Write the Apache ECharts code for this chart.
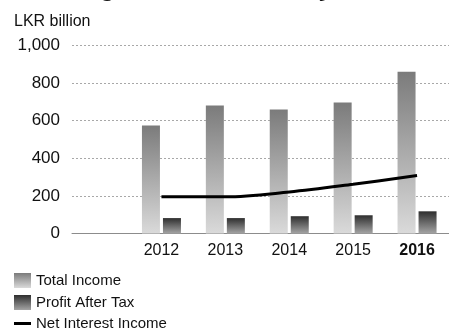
<!DOCTYPE html>
<html>
<head>
<meta charset="utf-8">
<script src="https://cdn.jsdelivr.net/npm/echarts@6/dist/echarts.min.js"></script>
<style>
  html, body { margin: 0; padding: 0; background: #fff; }
  #chart { width: 449px; height: 330px; }
</style>
</head>
<body>
<div id="chart"></div>
<script>
// Banking sector figures, LKR billion
const years = ['2012', '2013', '2014', '2015', '2016'];
const totalIncome = [575, 681, 660, 697, 861];
const profitAfterTax = [82, 82, 92, 97, 118];
const netInterestIncome = [195, 195, 221, 262, 308];
const yTicks = { min: 0, max: 1000, step: 200 };
const highlightYear = '2016';

const FONT = '"Liberation Sans", Arial, Helvetica, sans-serif';
const chart = echarts.init(document.getElementById('chart'), null, { renderer: 'canvas' });

const vGrad = (top, bottom) => new echarts.graphic.LinearGradient(0, 0, 0, 1, [
  { offset: 0, color: top },
  { offset: 1, color: bottom }
]);

const gridTop = 45.5;
const gridHeight = 188;

// one legend block per entry, stacked down the left edge
const legendEntries = [
  { name: 'Total Income', icon: 'rect', top: 273 },
  { name: 'Profit After Tax', icon: 'rect', top: 295 },
  { name: 'Net Interest Income', icon: 'path://M0,0h17v3h-17z', top: 316 }
];

chart.setOption({
  animation: false,
  backgroundColor: '#ffffff',
  textStyle: { fontFamily: FONT },
  graphic: [
    {
      type: 'text', left: 22, top: -23,
      style: { text: 'Banking Sector – Summary', font: 'italic bold 24px ' + FONT, fill: '#111' }
    },
    {
      type: 'text', left: 14, top: 14,
      style: { text: 'LKR billion', font: '16px ' + FONT, fill: '#111' }
    }
  ],
  grid: [
    // value grid: gridlines and baseline
    { left: 72, right: 0, top: gridTop, height: gridHeight },
    // category grid carrying the bars and the line
    { left: 129.5, width: 330.5, top: gridTop, height: gridHeight }
  ],
  xAxis: [
    {
      gridIndex: 0, type: 'category', data: [''],
      axisLine: { show: true, lineStyle: { color: '#8c8c8c', width: 1 } },
      axisTick: { show: false }, axisLabel: { show: false }
    },
    {
      gridIndex: 1, type: 'category', data: years,
      axisLine: { show: false }, axisTick: { show: false },
      axisLabel: {
        interval: 0, margin: 9, fontSize: 16, color: '#111', fontFamily: FONT,
        formatter: v => v === highlightYear ? '{b|' + v + '}' : v,
        rich: { b: { fontSize: 16, fontWeight: 'bold', color: '#111', fontFamily: FONT } }
      }
    }
  ],
  yAxis: [
    {
      gridIndex: 0, type: 'value', min: yTicks.min, max: yTicks.max, interval: yTicks.step,
      axisLine: { show: false }, axisTick: { show: false },
      axisLabel: {
        margin: 12, fontSize: 17, color: '#111', fontFamily: FONT,
        formatter: v => v.toLocaleString('en-US')
      },
      splitLine: { show: true, lineStyle: { color: '#a8a8a8', type: [2, 2], width: 1 } }
    },
    {
      gridIndex: 1, type: 'value', min: yTicks.min, max: yTicks.max, interval: yTicks.step,
      show: false, splitLine: { show: false }
    }
  ],
  legend: legendEntries.map(e => ({
    orient: 'vertical', left: 14, top: e.top, padding: 0,
    itemWidth: 17, itemHeight: 15,
    textStyle: { fontSize: 15, color: '#111', fontFamily: FONT },
    data: [{ name: e.name, icon: e.icon }]
  })),
  series: [
    {
      name: 'Total Income', type: 'bar', xAxisIndex: 1, yAxisIndex: 1,
      data: totalIncome, barWidth: 18, barGap: '16.7%',
      itemStyle: { color: vGrad('#7b7b7b', '#dadada') }
    },
    {
      name: 'Profit After Tax', type: 'bar', xAxisIndex: 1, yAxisIndex: 1,
      data: profitAfterTax, barWidth: 18, barGap: '16.7%',
      itemStyle: { color: vGrad('#2e2e2e', '#a4a4a4') }
    },
    {
      name: 'Net Interest Income', type: 'line', xAxisIndex: 1, yAxisIndex: 1,
      data: netInterestIncome, smooth: 0.35, symbol: 'none',
      lineStyle: { color: '#000', width: 3 },
      itemStyle: { color: '#000' }, z: 5
    }
  ]
});
</script>
</body>
</html>
